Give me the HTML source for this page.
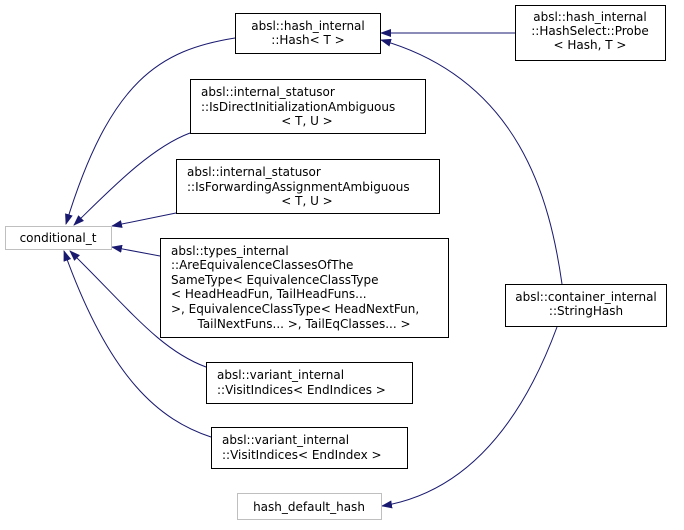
<!DOCTYPE html>
<html><head><meta charset="utf-8"><style>
html,body{margin:0;padding:0;background:#fff;}
svg text{font-family:"DejaVu Sans","Liberation Sans",sans-serif;font-size:12px;fill:#000;}
</style></head><body>
<svg width="684" height="525" viewBox="0 0 684 525" xmlns="http://www.w3.org/2000/svg">
<defs>
<marker id="a" markerWidth="11" markerHeight="8" refX="10" refY="4" orient="auto" markerUnits="userSpaceOnUse">
<polygon points="0,0 11,4 0,8" fill="#191970"/>
</marker>
</defs>
<g fill="none" stroke="#191970" stroke-width="1">
<path d="M235,38 C160,50 110,80 66,224" marker-end="url(#a)"/>
<path d="M190,133 C150,148 110,190 74,225" marker-end="url(#a)"/>
<path d="M176,213 L112,226" marker-end="url(#a)"/>
<path d="M160,256 L112,247" marker-end="url(#a)"/>
<path d="M206,367 C160,350 130,310 70,251" marker-end="url(#a)"/>
<path d="M211,437 C160,420 110,380 64,251" marker-end="url(#a)"/>
<path d="M515,33 L381,33" marker-end="url(#a)"/>
<path d="M562,284 C550,200 520,80 381,40" marker-end="url(#a)"/>
<path d="M557,327 C530,400 480,490 382,506" marker-end="url(#a)"/>
</g>
<g fill="#fff" stroke="#000" stroke-width="1">
<rect x="235.5" y="13.5" width="145" height="40"/>
<rect x="190.5" y="79.5" width="235" height="54"/>
<rect x="176.5" y="159.5" width="263" height="54"/>
<rect x="160.5" y="238.5" width="288" height="99"/>
<rect x="206.5" y="362.5" width="206" height="41"/>
<rect x="211.5" y="427.5" width="196" height="41"/>
<rect x="505.5" y="284.5" width="161" height="42"/>
<rect x="515.5" y="5.5" width="150" height="55"/>
</g>
<g fill="#fff" stroke="#bfbfbf" stroke-width="1">
<rect x="5.5" y="226.5" width="106" height="23"/>
<rect x="237.5" y="493.5" width="144" height="26"/>
</g>
<g text-anchor="middle">
<text x="308" y="30">absl::hash_internal</text>
<text x="308" y="44">::Hash&lt; T &gt;</text>
<text x="590" y="21">absl::hash_internal</text>
<text x="590" y="35">::HashSelect::Probe</text>
<text x="590" y="49">&lt; Hash, T &gt;</text>
<text x="307" y="125">&lt; T, U &gt;</text>
<text x="307" y="205">&lt; T, U &gt;</text>
<text x="58" y="242">conditional_t</text>
<text x="309" y="511">hash_default_hash</text>
<text x="586" y="301">absl::container_internal</text>
<text x="586" y="315">::StringHash</text>
<text x="304" y="328">TailNextFuns... &gt;, TailEqClasses... &gt;</text>
</g>
<g text-anchor="start">
<text x="201" y="96">absl::internal_statusor</text>
<text x="201" y="111">::IsDirectInitializationAmbiguous</text>
<text x="187" y="176">absl::internal_statusor</text>
<text x="187" y="191">::IsForwardingAssignmentAmbiguous</text>
<text x="171" y="255">absl::types_internal</text>
<text x="171" y="269">::AreEquivalenceClassesOfThe</text>
<text x="171" y="284">SameType&lt; EquivalenceClassType</text>
<text x="171" y="298">&lt; HeadHeadFun, TailHeadFuns...</text>
<text x="171" y="313"> &gt;, EquivalenceClassType&lt; HeadNextFun,</text>
<text x="217" y="379">absl::variant_internal</text>
<text x="217" y="394">::VisitIndices&lt; EndIndices &gt;</text>
<text x="222" y="444">absl::variant_internal</text>
<text x="222" y="459">::VisitIndices&lt; EndIndex &gt;</text>
</g>
</svg>
</body></html>
